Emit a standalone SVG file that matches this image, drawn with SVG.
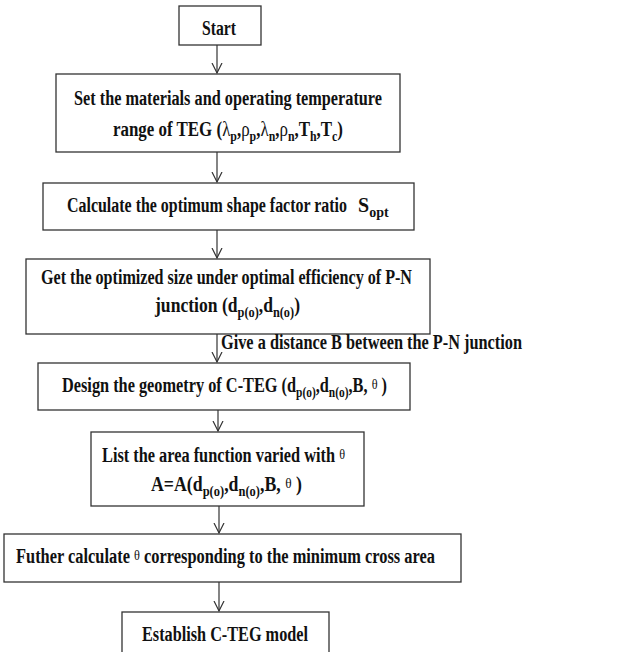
<svg xmlns="http://www.w3.org/2000/svg" width="642" height="652" viewBox="0 0 642 652">
<defs>
<style>
.box{fill:#fff;stroke:#333;stroke-width:1.3}
.t{font-family:"Liberation Serif","Times New Roman",serif;font-weight:bold;font-size:20px;fill:#111}
.s{font-size:14px}
.g{font-weight:normal}
.th{font-weight:normal;font-size:15px}
.c{fill:none;stroke:#333;stroke-width:1.2}
</style>
<marker id="ah" markerWidth="12" markerHeight="12" refX="10" refY="5" orient="auto" markerUnits="userSpaceOnUse" viewBox="0 0 12 10">
<polyline points="0,0 10,5 0,10" fill="none" stroke="#333" stroke-width="1.2"/>
</marker>
</defs>
<rect width="642" height="652" fill="#fff"/>
<g id="start">
<rect class="box" x="179" y="6" width="82" height="39"/>
<text class="t" x="202" y="35" textLength="34" lengthAdjust="spacingAndGlyphs">Start</text>
</g>
<g id="set-materials">
<rect class="box" x="56" y="74" width="344" height="78"/>
<text class="t" x="74" y="105" textLength="308" lengthAdjust="spacingAndGlyphs">Set the materials and operating temperature</text>
<text class="t" x="113" y="136" textLength="230" lengthAdjust="spacingAndGlyphs">range of TEG (<tspan class="g">λ</tspan><tspan class="s" dy="5">p</tspan><tspan dy="-5">,</tspan><tspan class="g">ρ</tspan><tspan class="s" dy="5">p</tspan><tspan dy="-5">,</tspan><tspan class="g">λ</tspan><tspan class="s" dy="5">n</tspan><tspan dy="-5">,</tspan><tspan class="g">ρ</tspan><tspan class="s" dy="5">n</tspan><tspan dy="-5">,T</tspan><tspan class="s" dy="5">h</tspan><tspan dy="-5">,T</tspan><tspan class="s" dy="5">c</tspan><tspan dy="-5">)</tspan></text>
</g>
<g id="shape-factor">
<rect class="box" x="43" y="183" width="371" height="47"/>
<text class="t" x="67" y="212" textLength="280" lengthAdjust="spacingAndGlyphs">Calculate the optimum shape factor ratio</text>
<text class="t" x="358" y="212">S<tspan class="s" dy="5">opt</tspan></text>
</g>
<g id="optimized-size">
<rect class="box" x="26" y="259" width="404" height="75"/>
<text class="t" x="41" y="284" textLength="371" lengthAdjust="spacingAndGlyphs">Get the optimized size under optimal efficiency of P-N</text>
<text class="t" x="155" y="312" textLength="145" lengthAdjust="spacingAndGlyphs">junction (d<tspan class="s" dy="5">p(o)</tspan><tspan dy="-5">,d</tspan><tspan class="s" dy="5">n(o)</tspan><tspan dy="-5">)</tspan></text>
</g>
<g id="design-geometry">
<rect class="box" x="38" y="363" width="372" height="47"/>
<text class="t" x="62" y="392" textLength="325" lengthAdjust="spacingAndGlyphs">Design the geometry of C-TEG (d<tspan class="s" dy="5">p(o)</tspan><tspan dy="-5">,d</tspan><tspan class="s" dy="5">n(o)</tspan><tspan dy="-5">,B, </tspan><tspan class="th" dy="-3">θ</tspan><tspan dy="3"> )</tspan></text>
</g>
<g id="area-function">
<rect class="box" x="91" y="432" width="273" height="74"/>
<text class="t" x="102" y="462" textLength="243" lengthAdjust="spacingAndGlyphs">List the area function varied with <tspan class="th" dy="-3">θ</tspan></text>
<text class="t" x="151" y="491" textLength="151" lengthAdjust="spacingAndGlyphs">A=A(d<tspan class="s" dy="5">p(o)</tspan><tspan dy="-5">,d</tspan><tspan class="s" dy="5">n(o)</tspan><tspan dy="-5">,B, </tspan><tspan class="th" dy="-3">θ</tspan><tspan dy="3"> )</tspan></text>
</g>
<g id="further-calculate">
<rect class="box" x="4" y="534" width="457" height="48"/>
<text class="t" x="16" y="563" textLength="419" lengthAdjust="spacingAndGlyphs">Futher calculate <tspan class="th" dy="-3">θ</tspan><tspan dy="3"> corresponding to the minimum cross area</tspan></text>
</g>
<g id="establish">
<rect class="box" x="122" y="612" width="207" height="50"/>
<text class="t" x="142" y="641" textLength="166" lengthAdjust="spacingAndGlyphs">Establish C-TEG model</text>
</g>
<g id="connectors">
<line class="c" x1="217" y1="45" x2="217" y2="73" marker-end="url(#ah)"/>
<line class="c" x1="217" y1="152" x2="217" y2="182" marker-end="url(#ah)"/>
<line class="c" x1="217" y1="230" x2="217" y2="258" marker-end="url(#ah)"/>
<line class="c" x1="217" y1="334" x2="217" y2="362" marker-end="url(#ah)"/>
<line class="c" x1="218" y1="410" x2="218" y2="431" marker-end="url(#ah)"/>
<line class="c" x1="219" y1="506" x2="219" y2="533" marker-end="url(#ah)"/>
<line class="c" x1="219" y1="582" x2="219" y2="611" marker-end="url(#ah)"/>
<text class="t" x="221" y="349" textLength="301" lengthAdjust="spacingAndGlyphs">Give a distance B between the P-N junction</text>
</g>
</svg>
